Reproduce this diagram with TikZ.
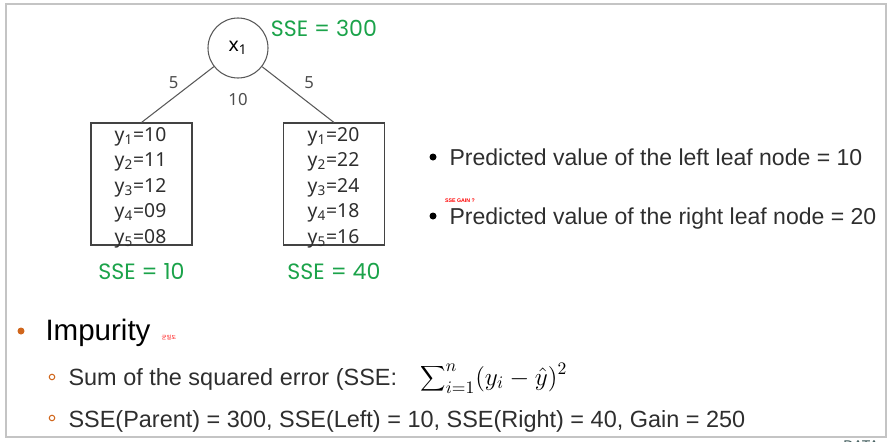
\documentclass[tikz,border=0pt]{standalone}
\usepackage{fontspec}
\setmainfont{Liberation Sans}
\newfontfamily\treefont{Noto Sans}
\newfontfamily\ssefont{Poppins}
\newfontfamily\kofont{Noto Sans CJK KR}
\usetikzlibrary{positioning}
\definecolor{cgreen}{HTML}{1BA34A}
\definecolor{corange}{HTML}{D0661C}
\definecolor{cframe}{HTML}{C4C4C4}
\definecolor{ctext}{HTML}{2E2E2E}
\definecolor{cdata}{HTML}{3F5A5A}
\tikzset{
  every picture/.style={line width=0.6pt},
  leaf/.style={draw=ctext!90, minimum width=2.02cm, minimum height=2.44cm, inner sep=0pt},
  vals/.style={font=\treefont\fontsize{11pt}{14.5pt}\selectfont, align=center, inner sep=0pt, text=ctext},
  sse/.style={font=\ssefont\fontsize{12.6pt}{14pt}\selectfont, text=cgreen},
  wt/.style={font=\treefont\fontsize{9.5pt}{11pt}\selectfont, text=ctext!85},
  branch/.style={draw=ctext!80, line width=0.6pt},
  item/.style={font=\fontsize{13.1pt}{16pt}\selectfont, text=ctext, anchor=base west, inner sep=0pt},
  dot/.style={circle, fill=#1, inner sep=0pt, minimum size=0.14cm},
  dot/.default=black,
  ring/.style={circle, draw=corange, line width=0.6pt, inner sep=0pt, minimum size=0.11cm},
  tiny/.style={font=\bfseries\fontsize{3pt}{3.5pt}\selectfont, text=red, inner sep=0pt},
}

\begin{document}
\begin{tikzpicture}
  \useasboundingbox (0,0) rectangle (17.92,8.82);
  \draw[cframe, line width=0.6pt] (0.12,0.08) rectangle (17.72,8.74);
  % tree: root split on x1
  \node[draw=ctext!80, circle, minimum size=1.2cm, inner sep=0pt, font=\treefont\fontsize{11pt}{13pt}\selectfont] (root) at (4.76,7.86) {x\textsubscript{1}};
  \node[sse] (sseroot) at (6.48,8.26) {SSE = 300};
  \node[leaf] (lbox) at (2.83,5.14) {};
  \node[leaf] (rbox) at (6.68,5.14) {};
  \node[vals] (lvals) at (2.81,5.07) {y\textsubscript{1}=10\\ y\textsubscript{2}=11\\ y\textsubscript{3}=12\\ y\textsubscript{4}=09\\ y\textsubscript{5}=08};
  \node[vals] (rvals) at (6.67,5.07) {y\textsubscript{1}=20\\ y\textsubscript{2}=22\\ y\textsubscript{3}=24\\ y\textsubscript{4}=18\\ y\textsubscript{5}=16};
  \draw[branch] (root) -- (lbox.north) node[wt, midway, above left=0pt, xshift=4pt] {5};
  \draw[branch] (root) -- (rbox.north) node[wt, midway, above right=0pt] {5};
  \node[wt, below=0.16cm of root] (nall) {10};
  \node[sse, below=0.22cm of lbox] (sseleft) {SSE = 10};
  \node[sse, below=0.22cm of rbox] (sseright) {SSE = 40};
  % predicted values
  \node[dot] (b1) at (8.66,5.68) {};
  \node[item] (pleft) at (8.98,5.52) {Predicted value of the left leaf node = 10};
  \node[tiny] (gain) at (9.2,4.8) {SSE GAIN ?};
  \node[dot] (b2) at (8.66,4.5) {};
  \node[item] (pright) at (8.98,4.34) {Predicted value of the right leaf node = 20};
  % impurity
  \node[dot=corange] (b3) at (0.42,2.2) {};
  \node[item, font=\fontsize{16.8pt}{20pt}\selectfont, text=black] (imp) at (0.9,2.02) {Impurity};
  \node[tiny, font=\kofont\fontsize{3pt}{3.5pt}\selectfont] (ko) at (3.38,2.08) {균일도};
  \node[ring] (b4) at (1.04,1.28) {};
  \node[item, font=\fontsize{13.35pt}{16pt}\selectfont] (ssedef) at (1.36,1.12) {Sum of the squared error (SSE:};
  \node[item, font=\fontsize{14.3pt}{17pt}\selectfont, text=black] (formula) at (8.4,1.12) {$\displaystyle\sum\nolimits_{i=1}^{n}(y_i-\hat{y})^2$};
  \node[ring] (b5) at (1.04,0.46) {};
  \node[item, font=\fontsize{13.35pt}{16pt}\selectfont] (gainline) at (1.36,0.28) {SSE(Parent) = 300, SSE(Left) = 10, SSE(Right) = 40, Gain = 250};
  \node[font=\fontsize{8pt}{9pt}\selectfont, text=cdata] (data) at (17.22,-0.1) {DATA};
\end{tikzpicture}
\end{document}
